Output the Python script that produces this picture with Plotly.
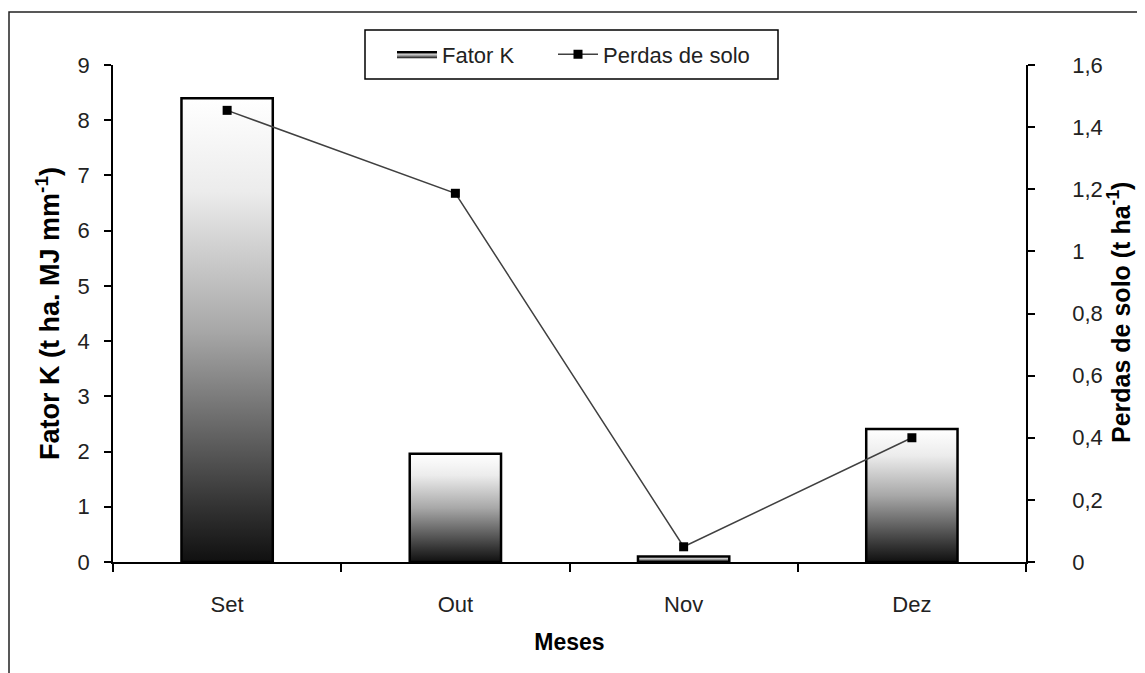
import plotly.graph_objects as go

# ---- data ----
meses = ["Set", "Out", "Nov", "Dez"]
fator_k = [8.40, 1.96, 0.10, 2.41]
perdas_solo = [1.454, 1.187, 0.049, 0.40]
k_ticks = list(range(0, 10))
bar_width = 0.4

FONT = "Liberation Sans, Arial, sans-serif"
grad = [[0, "#101010"], [0.12, "#333333"], [0.5, "#a8a8a8"], [0.8, "#ececec"], [1, "#ffffff"]]

# page body has an 8px margin: figure is laid out in its own pixel frame
W, H = 1137, 665
L, R, T, B = 105, 119, 57, 111
pw, ph = W - L - R, H - T - B


def px_x(x):
    return (x - L) / pw


def px_y(y):
    return (H - B - y) / ph


fig = go.Figure()

positions = list(range(len(meses)))
for i, (pos, v) in enumerate(zip(positions, fator_k)):
    x0, x1 = pos - bar_width / 2, pos + bar_width / 2
    fig.add_trace(go.Scatter(
        x=[x0, x0, x1, x1, x0], y=[0, v, v, 0, 0],
        mode="lines", fill="toself",
        fillgradient=dict(type="vertical", colorscale=grad, start=0, stop=v),
        line=dict(color="black", width=2.5),
        name="Fator K", legendgroup="k", showlegend=(i == 0), legend="legend",
        hoverinfo="skip", yaxis="y", xaxis="x",
    ))

fig.add_trace(go.Scatter(
    x=positions, y=perdas_solo, mode="lines+markers", name="Perdas de solo",
    line=dict(color="#404040", width=1.5),
    marker=dict(symbol="square", size=9, color="black"),
    yaxis="y2", xaxis="x", legend="legend2",
))

boundaries = [p - 0.5 for p in positions] + [positions[-1] + 0.5]
ax_common = dict(showgrid=False, zeroline=False, linecolor="black", linewidth=1.5,
                 tickcolor="black", tickwidth=1.5,
                 tickfont=dict(family=FONT, size=22, color="#222222"))
leg_common = dict(orientation="h", yanchor="middle", xanchor="left",
                  borderwidth=0, bgcolor="rgba(0,0,0,0)",
                  font=dict(family=FONT, size=22, color="#222222"), itemwidth=40)

fig.update_layout(
    width=W, height=H, autosize=False,
    margin=dict(l=L, r=R, t=T, b=B),
    paper_bgcolor="white", plot_bgcolor="white",
    separators=",.",
    font=dict(family=FONT, size=22, color="black"),
    xaxis=dict(range=[-0.5, 3.5], tickvals=positions, ticktext=meses, ticks="",
               showline=True, ticklabelstandoff=22,
               minor=dict(tickvals=boundaries, ticks="outside", ticklen=8,
                          tickcolor="black", tickwidth=1.5),
               title=dict(text="<b>Meses</b>", font=dict(family=FONT, size=23), standoff=18),
               **ax_common),
    xaxis3=dict(range=[-0.5, 3.5], overlaying="x", matches="x", anchor="y",
                tickvals=boundaries, ticks="inside", ticklen=8, showticklabels=False,
                showline=False, showgrid=False, zeroline=False, tickcolor="black", tickwidth=1.5),
    yaxis=dict(range=[0, 9], tickvals=k_ticks, ticks="outside", ticklen=7, showline=True,
               ticklabelstandoff=10,
               title=dict(text="<b>Fator K (t ha. MJ mm<sup>-1</sup>)</b>",
                          font=dict(family=FONT, size=27), standoff=10),
               **ax_common),
    yaxis3=dict(range=[0, 9], overlaying="y", matches="y", anchor="x", tickvals=k_ticks,
                ticks="inside", ticklen=7, showticklabels=False, showline=False,
                showgrid=False, zeroline=False, tickcolor="black", tickwidth=1.5),
    yaxis2=dict(range=[0, 1.6], dtick=0.2, overlaying="y", side="right", anchor="x",
                ticks="outside", ticklen=7, showline=True, ticklabelstandoff=33,
                **ax_common),
    yaxis4=dict(range=[0, 1.6], dtick=0.2, overlaying="y", matches="y2", side="right",
                anchor="x", ticks="inside", ticklen=7, showticklabels=False, showline=False,
                showgrid=False, zeroline=False, tickcolor="black", tickwidth=1.5),
    legend=dict(x=px_x(384), y=px_y(46.5), **leg_common),
    legend2=dict(x=px_x(545), y=px_y(46.5), **leg_common),
    annotations=[dict(text="<b>Perdas de solo (t ha<sup>-1</sup>)</b>", textangle=-90,
                      xref="paper", yref="paper", x=px_x(1111), y=px_y(305),
                      xanchor="center", yanchor="middle", showarrow=False,
                      font=dict(family=FONT, size=25, color="black"))],
    shapes=[
        dict(type="rect", xref="paper", yref="paper",
             x0=px_x(1), x1=px_x(W + 20), y0=px_y(H + 20), y1=px_y(4),
             line=dict(color="#222222", width=1.5), fillcolor="rgba(0,0,0,0)", layer="below"),
        dict(type="rect", xref="paper", yref="paper",
             x0=px_x(357), x1=px_x(770), y0=px_y(71), y1=px_y(22),
             line=dict(color="black", width=1.5), fillcolor="white", layer="above"),
    ],
)

fig.write_html("out.html")
